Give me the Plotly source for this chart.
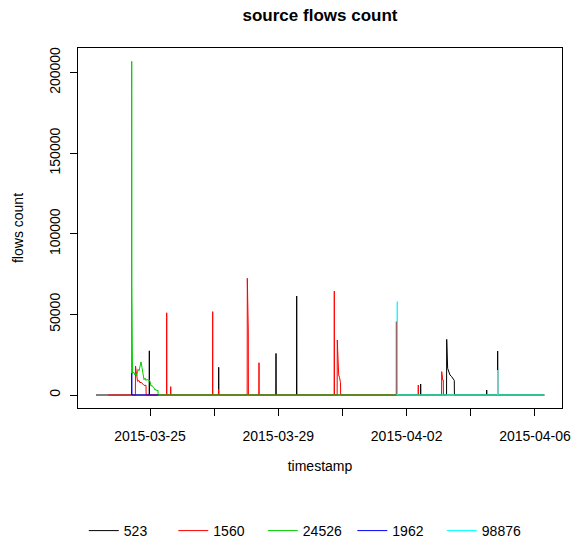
import pandas as pd
import plotly.graph_objects as go

# ---- data (timestamps / flow counts) ----
series_names = ["523", "1560", "24526", "1962", "98876"]
series_colors = ["#000000", "#FF0000", "#00CD00", "#0000FF", "#00FFFF"]

s523_start = "2015-03-23 07:36"
s523_end = "2015-04-06 07:00"
s523_bursts = [
    [("2015-03-24 23:30", 27400)],
    [("2015-03-27 03:24", 17200)],
    [("2015-03-28 22:16", 25800)],
    [("2015-03-29 13:45", 61400)],
    [("2015-04-02 10:30", 6800)],
    [("2015-04-03 05:58", 34500), ("2015-04-03 06:42", 16500), ("2015-04-03 07:42", 14500),
     ("2015-04-03 08:26", 12400), ("2015-04-03 09:42", 11400), ("2015-04-03 10:54", 9300),
     ("2015-04-03 11:39", 9000)],
    [("2015-04-04 11:54", 3100)],
    [("2015-04-04 20:06", 27300)],
]

s1560_start = "2015-03-23 16:48"
s1560_end = "2015-04-06 07:00"
s1560_bursts = [
    [("2015-03-24 13:09", 18000), ("2015-03-24 13:54", 11000), ("2015-03-24 14:39", 8500),
     ("2015-03-24 15:46", 9000), ("2015-03-24 16:31", 7500), ("2015-03-24 17:16", 8000),
     ("2015-03-24 18:46", 7000), ("2015-03-24 19:31", 6000), ("2015-03-24 21:01", 6000)],
    [("2015-03-25 12:30", 51000)],
    [("2015-03-25 15:30", 5200)],
    [("2015-03-26 22:54", 51700)],
    [("2015-03-27 03:15", 3500)],
    [("2015-03-28 00:48", 72400), ("2015-03-28 01:32", 40300)],
    [("2015-03-28 09:33", 20000)],
    [("2015-03-30 17:53", 64500)],
    [("2015-03-30 20:07", 34100), ("2015-03-30 21:10", 12400), ("2015-03-30 21:46", 11000),
     ("2015-03-30 22:31", 7600)],
    [("2015-04-01 16:20", 45500)],
    [("2015-04-02 08:43", 6200)],
    [("2015-04-03 02:14", 14500), ("2015-04-03 03:00", 9300), ("2015-04-03 03:26", 9300)],
]

s24526_start = "2015-03-24 10:13"
s24526_end = "2015-04-06 07:00"
s24526_bursts = [
    [("2015-03-24 10:19", 207000), ("2015-03-24 10:25", 69000), ("2015-03-24 10:55", 13500),
     ("2015-03-24 12:02", 14000), ("2015-03-24 12:40", 12500), ("2015-03-24 13:32", 13500),
     ("2015-03-24 14:10", 12000), ("2015-03-24 15:01", 16000), ("2015-03-24 15:46", 15000),
     ("2015-03-24 16:31", 19000), ("2015-03-24 17:16", 20500), ("2015-03-24 18:01", 17000),
     ("2015-03-24 18:46", 12000), ("2015-03-24 19:31", 9500), ("2015-03-24 20:15", 10500),
     ("2015-03-24 21:01", 9000), ("2015-03-24 21:45", 9800), ("2015-03-24 22:30", 9000),
     ("2015-03-24 23:15", 9600), ("2015-03-25 00:00", 8500), ("2015-03-25 00:45", 5500),
     ("2015-03-25 01:30", 6000), ("2015-03-25 02:15", 5000), ("2015-03-25 03:00", 4500),
     ("2015-03-25 03:45", 3000), ("2015-03-25 04:29", 3500), ("2015-03-25 05:14", 2500),
     ("2015-03-25 05:59", 3000)],
]

s1962_start = "2015-03-24 10:14"
s1962_end = "2015-03-25 06:13"
s1962_bursts = [
    [("2015-03-24 10:20", 13500)],
]

s98876_start = "2015-04-01 16:28"
s98876_end = "2015-04-06 07:00"
s98876_bursts = [
    [("2015-04-01 17:00", 57900)],
    [("2015-04-04 20:06", 15500)],
]

x_tick_vals = ["2015-03-25", "2015-03-27", "2015-03-29", "2015-03-31",
               "2015-04-02", "2015-04-04", "2015-04-06"]
x_tick_text = ["2015-03-25", "", "2015-03-29", "", "2015-04-02", "", "2015-04-06"]
y_tick_vals = [0, 50000, 100000, 150000, 200000]
y_tick_text = ["0", "50000", "100000", "150000", "200000"]


def build(start, end, bursts, pad=pd.Timedelta(minutes=6)):
    t = [pd.Timestamp(start)]
    v = [0]
    for b in bursts:
        t.append(pd.Timestamp(b[0][0]) - pad)
        v.append(0)
        for ts, val in b:
            t.append(pd.Timestamp(ts))
            v.append(val)
        t.append(pd.Timestamp(b[-1][0]) + pad)
        v.append(0)
    t.append(pd.Timestamp(end))
    v.append(0)
    return t, v


all_series = [
    (s523_start, s523_end, s523_bursts),
    (s1560_start, s1560_end, s1560_bursts),
    (s24526_start, s24526_end, s24526_bursts),
    (s1962_start, s1962_end, s1962_bursts),
    (s98876_start, s98876_end, s98876_bursts),
]

fig = go.Figure()
for name, color, (st, en, bu) in zip(series_names, series_colors, all_series):
    t, v = build(st, en, bu)
    fig.add_trace(go.Scatter(x=t, y=v, mode="lines", name=name,
                             line=dict(color=color, width=1)))

FONT = "Liberation Sans, Arial, Helvetica, sans-serif"

fig.update_layout(
    width=576, height=544,
    margin=dict(l=78, r=14, t=48, b=136, autoexpand=False),
    paper_bgcolor="white", plot_bgcolor="white",
    font=dict(family=FONT, size=14, color="black"),
    title=dict(text="<b>source flows count</b>", x=0.5, xref="paper", xanchor="center",
               y=1 - 15 / 544, yref="container", yanchor="middle",
               font=dict(size=17, family=FONT, color="black")),
    showlegend=True,
    legend=dict(orientation="h", x=0.012, xanchor="left",
                y=1 - 531 / 544, yref="container", yanchor="middle",
                entrywidth=44.5, entrywidthmode="pixels", font=dict(size=14),
                bgcolor="rgba(0,0,0,0)", tracegroupgap=0),
)

fig.update_xaxes(
    type="date", automargin=False,
    range=["2015-03-22 18:08", "2015-04-06 20:14"],
    tickmode="array", tickvals=x_tick_vals, ticktext=x_tick_text,
    ticks="outside", ticklen=7, tickcolor="black", tickwidth=1,
    ticklabelstandoff=8,
    showgrid=False, zeroline=False,
    showline=True, mirror=True, linecolor="black", linewidth=1,
    title=dict(text="timestamp", standoff=18, font=dict(size=14)),
    tickfont=dict(size=14),
)
fig.update_yaxes(
    automargin=False,
    range=[-8064, 215245],
    tickmode="array", tickvals=y_tick_vals, ticktext=y_tick_text,
    tickangle=-90,
    ticks="outside", ticklen=7, tickcolor="black", tickwidth=1,
    ticklabelstandoff=4,
    showgrid=False, zeroline=False,
    showline=True, mirror=True, linecolor="black", linewidth=1,
    title=dict(text="flows count", standoff=20, font=dict(size=14)),
    tickfont=dict(size=14),
)

fig.write_html("out.html")
